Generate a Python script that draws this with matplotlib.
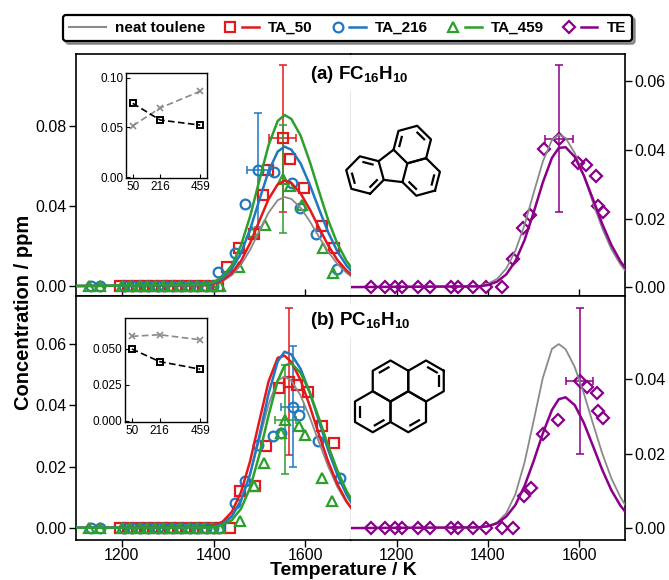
import matplotlib
matplotlib.use('Agg')
import matplotlib.pyplot as plt
import numpy as np
from matplotlib.lines import Line2D
from matplotlib.legend_handler import HandlerTuple
from matplotlib.ticker import FormatStrFormatter

plt.rcParams['font.family'] = ['Liberation Sans', 'DejaVu Sans']
plt.rcParams['mathtext.fontset'] = 'custom'
plt.rcParams['mathtext.rm'] = 'Liberation Sans'
plt.rcParams['mathtext.bf'] = 'Liberation Sans:bold'
plt.rcParams['mathtext.it'] = 'Liberation Sans:italic'

# --- colours ---
C_NEAT = '#8a8a8a'
C_50 = '#e3191c'
C_216 = '#1f78c1'
C_459 = '#2ca02c'
C_TE = '#8b008b'

# --- fitted curves ---
fit_T = [1100, 1380, 1400, 1420, 1440, 1460, 1480, 1500, 1520, 1540, 1555,
         1570, 1590, 1610, 1630, 1650, 1670, 1690, 1700]

fc_fit_neat = [0, 0.0003, 0.0010, 0.0024, 0.0054, 0.0106, 0.0181, 0.0275, 0.0366, 0.0429, 0.0445,
               0.0435, 0.0391, 0.0324, 0.0246, 0.0172, 0.0111, 0.0066, 0.0049]
fc_fit_50 = [0, 0.0004, 0.0011, 0.0029, 0.0064, 0.0125, 0.0215, 0.0325, 0.0434, 0.0508, 0.0527,
             0.0515, 0.0463, 0.0384, 0.0292, 0.0204, 0.0131, 0.0078, 0.0058]
fc_fit_216 = [0, 0.0005, 0.0015, 0.0038, 0.0085, 0.0165, 0.0284, 0.0430, 0.0573, 0.0672, 0.0697,
              0.0681, 0.0613, 0.0507, 0.0386, 0.0270, 0.0174, 0.0103, 0.0077]
fc_fit_459 = [0, 0.0006, 0.0019, 0.0047, 0.0104, 0.0203, 0.0349, 0.0528, 0.0703, 0.0825, 0.0855,
              0.0835, 0.0752, 0.0622, 0.0474, 0.0331, 0.0213, 0.0126, 0.0094]
fc_fit_te = [0, 0.0002, 0.0006, 0.0016, 0.0037, 0.0076, 0.0137, 0.0218, 0.0305, 0.0377, 0.0406,
             0.0408, 0.0380, 0.0325, 0.0256, 0.0185, 0.0123, 0.0075, 0.0057]

pc_fit_neat = [0, 0.0001, 0.0005, 0.0015, 0.0040, 0.0091, 0.0176, 0.0288, 0.0403, 0.0481, 0.0494,
               0.0480, 0.0432, 0.0361, 0.0280, 0.0201, 0.0134, 0.0083, 0.0063]
pc_fit_50 = [0, 0.0002, 0.0007, 0.0020, 0.0052, 0.0116, 0.0218, 0.0349, 0.0477, 0.0555, 0.0562,
             0.0541, 0.0482, 0.0398, 0.0305, 0.0217, 0.0143, 0.0087, 0.0066]
pc_fit_216 = [0, 0.0001, 0.0004, 0.0013, 0.0037, 0.0088, 0.0176, 0.0300, 0.0437, 0.0543, 0.0575,
              0.0566, 0.0519, 0.0442, 0.0349, 0.0255, 0.0174, 0.0109, 0.0084]
pc_fit_459 = [0, 0.0001, 0.0002, 0.0009, 0.0025, 0.0062, 0.0131, 0.0238, 0.0366, 0.0480, 0.0530,
              0.0537, 0.0506, 0.0442, 0.0358, 0.0269, 0.0188, 0.0121, 0.0095]
pc_fit_te = [0, 0.0002, 0.0005, 0.0013, 0.0031, 0.0062, 0.0113, 0.0180, 0.0254, 0.0317, 0.0346,
             0.0351, 0.0330, 0.0282, 0.0220, 0.0157, 0.0102, 0.0060, 0.0045]

# --- measured points: (a) FC16H10 ---
fc50_T = [1195, 1213, 1232, 1250, 1268, 1287, 1305, 1323, 1341, 1360, 1378, 1396, 1410,
          1430, 1455, 1488, 1509, 1518, 1551, 1566, 1598, 1637, 1662]
fc50_y = [0, 0, 0, 0, 0, 0, 0, 0, 0, 0, 0, 0, 0,
          0.0095, 0.0188, 0.0260, 0.0455, 0.0578, 0.0738, 0.0635, 0.0488, 0.0302, 0.0192]
fc216_T = [1132, 1152, 1205, 1222, 1240, 1258, 1278, 1292, 1310, 1330, 1348, 1365, 1383, 1398,
           1409, 1446, 1469, 1498, 1533, 1571, 1588, 1623, 1670]
fc216_y = [0, 0, 0, 0, 0, 0, 0, 0, 0, 0, 0, 0, 0, 0,
           0.0072, 0.0163, 0.0410, 0.0580, 0.0572, 0.0517, 0.0390, 0.0258, 0.0086]
fc459_T = [1128, 1152, 1200, 1218, 1240, 1255, 1273, 1290, 1309, 1327, 1346, 1364, 1380, 1397, 1414,
           1455, 1485, 1512, 1552, 1566, 1592, 1639, 1660]
fc459_y = [0, 0, 0, 0, 0, 0, 0, 0, 0, 0, 0, 0, 0, 0, 0,
           0.0097, 0.0270, 0.0305, 0.0533, 0.0500, 0.0405, 0.0188, 0.0063]
fcte_T = [1143, 1175, 1197, 1211, 1246, 1272, 1320, 1334, 1367, 1395, 1430,
          1455, 1476, 1492, 1523, 1556, 1597, 1614, 1636, 1640, 1651]
fcte_y = [0, 0, 0, 0, 0, 0, 0, 0, 0, 0, 0,
          0.0081, 0.0172, 0.0209, 0.0403, 0.0433, 0.0362, 0.0355, 0.0325, 0.0238, 0.0219]

# error bars (a): (T, y, xerr, yerr)
fc50_err = (1551, 0.0738, 30, 0.0367)
fc216_err = (1498, 0.0580, 24, 0.0285)
fc459_err = (1552, 0.0533, 0, 0.0270)
fcte_err = (1556, 0.0433, 31, 0.0215)

# --- measured points: (b) PC16H10 ---
pc50_T = [1195, 1213, 1232, 1250, 1268, 1287, 1305, 1323, 1341, 1360, 1378, 1396, 1414, 1435,
          1457, 1490, 1515, 1542, 1565, 1583, 1606, 1637, 1662]
pc50_y = [0, 0, 0, 0, 0, 0, 0, 0, 0, 0, 0, 0, 0, 0,
          0.0121, 0.0137, 0.0267, 0.0455, 0.0477, 0.0465, 0.0445, 0.0333, 0.0276]
pc216_T = [1132, 1152, 1205, 1222, 1240, 1258, 1278, 1292, 1310, 1330, 1348, 1365, 1383, 1398, 1412,
           1446, 1469, 1498, 1530, 1548, 1573, 1587, 1628, 1675]
pc216_y = [0, 0, 0, 0, 0, 0, 0, 0, 0, 0, 0, 0, 0, 0, 0,
           0.0080, 0.0152, 0.0270, 0.0300, 0.0310, 0.0396, 0.0367, 0.0285, 0.0161]
pc459_T = [1128, 1152, 1200, 1218, 1240, 1255, 1273, 1290, 1309, 1327, 1346, 1364, 1380, 1397, 1414,
           1457, 1488, 1511, 1548, 1557, 1586, 1600, 1637, 1659]
pc459_y = [0, 0, 0, 0, 0, 0, 0, 0, 0, 0, 0, 0, 0, 0, 0,
           0.0022, 0.0136, 0.0212, 0.0309, 0.0352, 0.0331, 0.0303, 0.0162, 0.0086]
pcte_T = [1143, 1175, 1197, 1211, 1246, 1272, 1320, 1334, 1367, 1395, 1430, 1455,
          1479, 1495, 1521, 1553, 1601, 1616, 1638, 1640, 1651]
pcte_y = [0, 0, 0, 0, 0, 0, 0, 0, 0, 0, 0, 0,
          0.0086, 0.0107, 0.0252, 0.0290, 0.0395, 0.0379, 0.0362, 0.0315, 0.0295]

pc50_err = (1565, 0.0477, 0, 0.0240)
pc216_err = (1573, 0.0396, 25, 0.0198)
pc459_err = (1557, 0.0352, 22, 0.0178)
pcte_err = (1601, 0.0395, 30, 0.0197)

# --- insets ---
ta_conc = [50, 216, 459]
fc_inset_ta = [0.0744, 0.0575, 0.0524]
fc_inset_neat = [0.0517, 0.0697, 0.0866]
pc_inset_ta = [0.0499, 0.0412, 0.0359]
pc_inset_neat = [0.0587, 0.0598, 0.0563]

W, H = 669, 580
fig = plt.figure(figsize=(W / 100, H / 100), dpi=100)


def px_box(x0, y0, x1, y1):
    return [x0 / W, 1 - y1 / H, (x1 - x0) / W, (y1 - y0) / H]


axTL = fig.add_axes(px_box(76, 54, 351, 296))
axTR = fig.add_axes(px_box(351, 54, 625, 296))
axBL = fig.add_axes(px_box(76, 296, 351, 540))
axBR = fig.add_axes(px_box(351, 296, 625, 540))


def pts(ax, T, y, color, marker, ms=7):
    ax.plot(T, y, ls='none', marker=marker, ms=ms, mfc='none', mec=color, mew=1.6, zorder=3)


def err(ax, e, color):
    T, y, xe, ye = e
    ax.errorbar([T], [y], yerr=[ye], xerr=[xe] if xe else None, fmt='none',
                ecolor=color, elinewidth=1.1, capsize=3, capthick=1.1, zorder=2)


# (a) left
pts(axTL, fc50_T, fc50_y, C_50, 's')
pts(axTL, fc216_T, fc216_y, C_216, 'o')
pts(axTL, fc459_T, fc459_y, C_459, '^')
err(axTL, fc50_err, C_50)
err(axTL, fc216_err, C_216)
err(axTL, fc459_err, C_459)
axTL.plot(fit_T, fc_fit_neat, color=C_NEAT, lw=1.3, zorder=4)
axTL.plot(fit_T, fc_fit_50, color=C_50, lw=1.8, zorder=4)
axTL.plot(fit_T, fc_fit_216, color=C_216, lw=1.8, zorder=4)
axTL.plot(fit_T, fc_fit_459, color=C_459, lw=1.8, zorder=4)

# (a) right
pts(axTR, fcte_T, fcte_y, C_TE, 'D', 6.5)
err(axTR, fcte_err, C_TE)
axTR.plot(fit_T, fc_fit_neat, color=C_NEAT, lw=1.3, zorder=4)
axTR.plot(fit_T, fc_fit_te, color=C_TE, lw=1.8, zorder=4)

# (b) left
pts(axBL, pc50_T, pc50_y, C_50, 's')
pts(axBL, pc216_T, pc216_y, C_216, 'o')
pts(axBL, pc459_T, pc459_y, C_459, '^')
err(axBL, pc50_err, C_50)
err(axBL, pc216_err, C_216)
err(axBL, pc459_err, C_459)
axBL.plot(fit_T, pc_fit_neat, color=C_NEAT, lw=1.3, zorder=4)
axBL.plot(fit_T, pc_fit_50, color=C_50, lw=1.8, zorder=4)
axBL.plot(fit_T, pc_fit_216, color=C_216, lw=1.8, zorder=4)
axBL.plot(fit_T, pc_fit_459, color=C_459, lw=1.8, zorder=4)

# (b) right
pts(axBR, pcte_T, pcte_y, C_TE, 'D', 6.5)
err(axBR, pcte_err, C_TE)
axBR.plot(fit_T, pc_fit_neat, color=C_NEAT, lw=1.3, zorder=4)
axBR.plot(fit_T, pc_fit_te, color=C_TE, lw=1.8, zorder=4)

# --- axes styling ---
axTL.set_ylim(-0.005, 0.116)
axTL.set_yticks([0, 0.04, 0.08])
axTR.set_ylim(-0.0026, 0.068)
axTR.set_yticks([0, 0.02, 0.04, 0.06])
axBL.set_ylim(-0.004, 0.0757)
axBL.set_yticks([0, 0.02, 0.04, 0.06])
axBR.set_ylim(-0.0032, 0.0623)
axBR.set_yticks([0, 0.02, 0.04])

for ax in (axTL, axTR, axBL, axBR):
    ax.set_xlim(1100, 1700)
    ax.set_xticks([1200, 1400, 1600])
    ax.yaxis.set_major_formatter(FormatStrFormatter('%.2f'))
    for s in ax.spines.values():
        s.set_linewidth(1.2)
    ax.tick_params(labelsize=11.5, length=5, width=1)

for ax in (axTL, axTR):
    ax.tick_params(axis='x', direction='in', labelbottom=False)
for ax in (axBL, axBR):
    ax.tick_params(axis='x', direction='out', pad=1)
for ax in (axTL, axBL):
    ax.spines['right'].set_color('#8a8a8a')
    ax.spines['right'].set_linewidth(1.0)
    ax.tick_params(axis='y', direction='out', pad=2)
for ax in (axTR, axBR):
    ax.spines['left'].set_visible(False)
    ax.yaxis.tick_right()
    ax.tick_params(axis='y', direction='out', pad=2)

# --- insets ---
inTop = fig.add_axes(px_box(126, 73, 207, 178))
inBot = fig.add_axes(px_box(125, 318, 207, 422))
for ax, ta, neat, ylim, yt, fmt in (
        (inTop, fc_inset_ta, fc_inset_neat, (-0.001, 0.105), [0, 0.05, 0.10], '%.2f'),
        (inBot, pc_inset_ta, pc_inset_neat, (-0.0007, 0.0714), [0, 0.025, 0.05], '%.3f')):
    ax.plot(ta_conc, neat, color='#8a8a8a', ls='--', dashes=(4, 2), lw=1.2,
            marker='x', ms=5, mew=1.2)
    ax.plot(ta_conc, ta, color='black', ls='--', dashes=(4, 2), lw=1.2,
            marker='s', ms=5, mfc='none', mew=1.4)
    ax.set_xlim(9, 500)
    ax.set_ylim(*ylim)
    ax.set_xticks(ta_conc)
    ax.set_yticks(yt)
    ax.yaxis.set_major_formatter(FormatStrFormatter(fmt))
    ax.tick_params(direction='in', length=3, width=0.8, labelsize=8.5, pad=2)
    for s in ax.spines.values():
        s.set_linewidth(1.0)

# --- overlay for panel titles and structures (pixel coordinates, y up) ---
ov = fig.add_axes([0, 0, 1, 1], zorder=10)
ov.set_xlim(0, W)
ov.set_ylim(0, H)
ov.axis('off')
ov.patch.set_alpha(0)

ov.text(310, H - 79, r'(a) FC$_{\mathbf{16}}$H$_{\mathbf{10}}$', fontsize=13.5, fontweight='bold',
        ha='left', va='baseline', bbox=dict(fc='white', ec='none', pad=4))
ov.text(310, H - 325, r'(b) PC$_{\mathbf{16}}$H$_{\mathbf{10}}$', fontsize=13.5, fontweight='bold',
        ha='left', va='baseline', bbox=dict(fc='white', ec='none', pad=4))

LW_MOL = 1.6


def hex_pts(c, b, start):
    a = np.radians(start + 60 * np.arange(7))
    return np.column_stack([c[0] + b * np.cos(a), c[1] + b * np.sin(a)])


def draw_ring(p, c, edges):
    ov.plot(p[:, 0], p[:, 1], color='k', lw=LW_MOL, solid_joinstyle='round')
    for k in edges:
        p1, p2 = p[k], p[k + 1]
        sh = (np.asarray(c) - (p1 + p2) / 2) * 0.28
        q1 = p1 + 0.2 * (p2 - p1) + sh
        q2 = p2 - 0.2 * (p2 - p1) + sh
        ov.plot([q1[0], q2[0]], [q1[1], q2[1]], color='k', lw=LW_MOL, solid_capstyle='butt')


# fluoranthene: built in bond units, then rotated/scaled into place
th = np.radians(-74.6)
Rm = np.array([[np.cos(th), -np.sin(th)], [np.sin(th), np.cos(th)]])
b_f = 19.4
ben_std = np.array([0, -2.766])
origin = np.array([365, H - 175]) - b_f * Rm @ ben_std


def tf(p):
    return origin + b_f * (np.atleast_2d(p) @ Rm.T)


for cen, start, edges in (((-0.866, 0), 30, [1, 3]),
                          ((0.866, 0), 30, [0, 4]),
                          ((0, -2.766), 0, [0, 2, 4])):
    p = tf(hex_pts(cen, 1.0, start))
    draw_ring(p, tf(cen)[0], edges)
for a, bb in (((-0.866, -1), (-0.5, -1.9)), ((0.866, -1), (0.5, -1.9))):
    q = tf(np.array([a, bb]))
    ov.plot(q[:, 0], q[:, 1], color='k', lw=LW_MOL)

# pyrene
b_p = 20.5
s = np.sqrt(3) * b_p
cB = np.array([390.5, H - 381])
cC = cB + [s, 0]
cA = cB + [-s / 2, -s * np.sqrt(3) / 2]
cD = cB + [s / 2, -s * np.sqrt(3) / 2]
for cen, edges in ((cB, [1]), (cC, [0, 5]), (cA, [2, 4]), (cD, [4])):
    draw_ring(hex_pts(cen, b_p, 30), cen, edges)

# --- axis labels ---
fig.text(0.035, 1 - 312 / H, 'Concentration / ppm', rotation=90, ha='center', va='center',
         fontsize=14.5, fontweight='bold')
fig.text(343 / W, 1 / H, 'Temperature / K', ha='center', va='bottom',
         fontsize=14, fontweight='bold')

# --- legend ---
def pair(color, marker, ms=7):
    return (Line2D([], [], ls='none', marker=marker, ms=ms, mfc='none', mec=color, mew=1.6),
            Line2D([], [], color=color, lw=1.8))


handles = [Line2D([], [], color=C_NEAT, lw=1.5),
           pair(C_50, 's'), pair(C_216, 'o'), pair(C_459, '^'), pair(C_TE, 'D', 6.5)]
labels = ['neat toulene', 'TA_50', 'TA_216', 'TA_459', 'TE']
leg = fig.legend(handles, labels, handler_map={tuple: HandlerTuple(ndivide=None, pad=0.2)},
                 ncol=5, loc='center', bbox_to_anchor=(347.5 / W, 1 - 28 / H),
                 prop={'weight': 'bold', 'size': 11}, fancybox=True, shadow=True,
                 edgecolor='black', framealpha=1, handlelength=2.4, handletextpad=0.6,
                 columnspacing=1.1, borderpad=0.4)
leg.get_frame().set_linewidth(1.6)

fig.savefig('out.png', dpi=100)
